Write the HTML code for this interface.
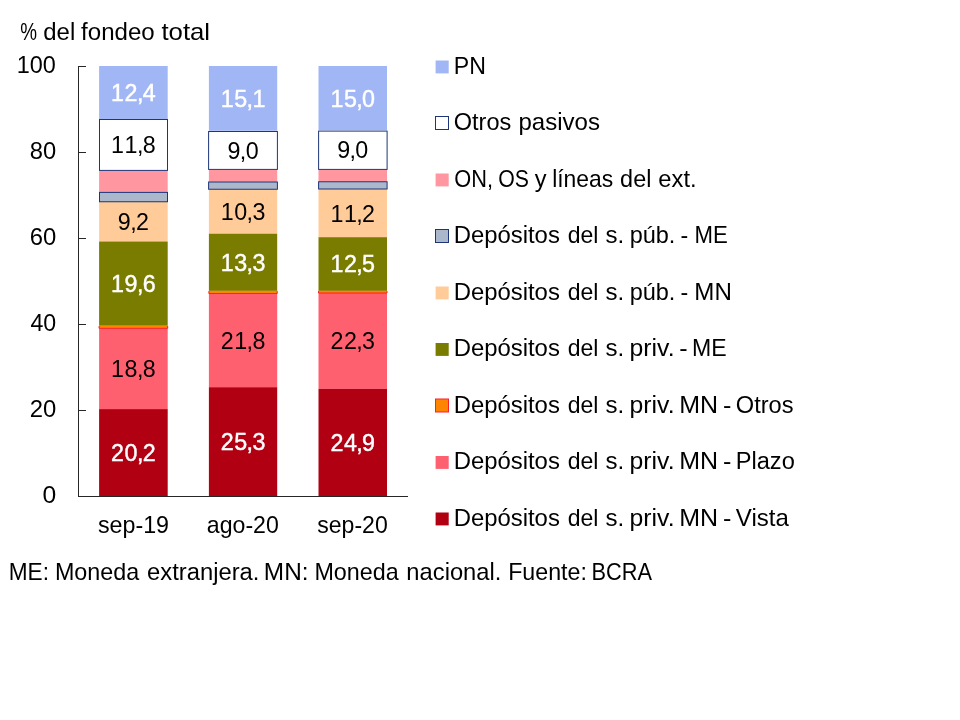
<!DOCTYPE html>
<html lang="es"><head><meta charset="utf-8"><title>Fondeo total</title>
<style>html,body{margin:0;padding:0;background:#fff}svg{display:block;will-change:transform}text{font-family:'Liberation Sans', sans-serif;font-size:24px}</style></head><body>
<svg width="960" height="720" viewBox="0 0 960 720">
<rect width="960" height="720" fill="#fff"/>
<rect x="99.10" y="66.00" width="68.60" height="53.30" fill="#A1B6F5"/>
<rect x="99.10" y="119.30" width="68.60" height="50.80" fill="#FFFFFF"/>
<rect x="99.10" y="170.10" width="68.60" height="21.90" fill="#FF96A0"/>
<rect x="99.10" y="192.00" width="68.60" height="10.00" fill="#ABB7CB"/>
<rect x="99.10" y="202.00" width="68.60" height="39.50" fill="#FFCC99"/>
<rect x="99.10" y="241.50" width="68.60" height="84.30" fill="#7A7C00"/>
<rect x="99.10" y="325.80" width="68.60" height="2.50" fill="#FF8500"/>
<rect x="99.10" y="328.30" width="68.60" height="80.80" fill="#FF6070"/>
<rect x="99.10" y="409.10" width="68.60" height="86.90" fill="#B00012"/>
<rect x="99.50" y="119.50" width="68.00" height="50.90" fill="#FFFFFF" stroke="#1F3579" stroke-width="1"/>
<rect x="99.50" y="192.40" width="68.00" height="9.35" fill="#ABB7CB" stroke="#1F3579" stroke-width="1"/>
<rect x="99.10" y="325.80" width="68.60" height="2.50" fill="#FF8500"/>
<path d="M99.10 326.10V328.30H167.70V326.10" fill="none" stroke="#F8202A" stroke-width="1"/>
<text transform="translate(110.83,101.05) scale(0.97,1)" x="0.27 14.17 26.88 32.91" fill="#fff" stroke="#fff" stroke-width=".45">12,4</text>
<text transform="translate(110.83,153.10) scale(0.97,1)" x="0.27 14.17 26.88 32.91" fill="#000">11,8</text>
<text transform="translate(117.57,230.15) scale(0.97,1)" x="0.27 12.98 19.02" fill="#000">9,2</text>
<text transform="translate(110.83,292.05) scale(0.97,1)" x="0.27 14.17 26.88 32.91" fill="#fff" stroke="#fff" stroke-width=".45">19,6</text>
<text transform="translate(110.83,377.10) scale(0.97,1)" x="0.27 14.17 26.88 32.91" fill="#000">18,8</text>
<text transform="translate(110.83,460.95) scale(0.97,1)" x="0.27 14.17 26.88 32.91" fill="#fff" stroke="#fff" stroke-width=".45">20,2</text>
<rect x="208.90" y="66.00" width="68.30" height="64.90" fill="#A1B6F5"/>
<rect x="208.90" y="130.90" width="68.30" height="38.70" fill="#FFFFFF"/>
<rect x="208.90" y="169.60" width="68.30" height="12.30" fill="#FF96A0"/>
<rect x="208.90" y="181.90" width="68.30" height="7.50" fill="#ABB7CB"/>
<rect x="208.90" y="189.40" width="68.30" height="44.30" fill="#FFCC99"/>
<rect x="208.90" y="233.70" width="68.30" height="57.20" fill="#7A7C00"/>
<rect x="208.90" y="290.90" width="68.30" height="2.60" fill="#FF8500"/>
<rect x="208.90" y="293.50" width="68.30" height="93.70" fill="#FF6070"/>
<rect x="208.90" y="387.20" width="68.30" height="108.80" fill="#B00012"/>
<rect x="208.60" y="131.50" width="68.80" height="37.90" fill="#FFFFFF" stroke="#1F3579" stroke-width="1"/>
<rect x="208.60" y="182.00" width="68.80" height="7.25" fill="#ABB7CB" stroke="#1F3579" stroke-width="1"/>
<rect x="208.90" y="290.90" width="68.30" height="2.60" fill="#FF8500"/>
<path d="M208.90 291.20V293.50H277.20V291.20" fill="none" stroke="#F8202A" stroke-width="1"/>
<text transform="translate(220.48,106.85) scale(0.97,1)" x="0.27 14.17 26.88 32.91" fill="#fff" stroke="#fff" stroke-width=".45">15,1</text>
<text transform="translate(227.22,158.65) scale(0.97,1)" x="0.27 12.98 19.02" fill="#000">9,0</text>
<text transform="translate(220.48,219.95) scale(0.97,1)" x="0.27 14.17 26.88 32.91" fill="#000">10,3</text>
<text transform="translate(220.48,270.70) scale(0.97,1)" x="0.27 14.17 26.88 32.91" fill="#fff" stroke="#fff" stroke-width=".45">13,3</text>
<text transform="translate(220.48,348.75) scale(0.97,1)" x="0.27 14.17 26.88 32.91" fill="#000">21,8</text>
<text transform="translate(220.48,450.00) scale(0.97,1)" x="0.27 14.17 26.88 32.91" fill="#fff" stroke="#fff" stroke-width=".45">25,3</text>
<rect x="318.50" y="66.00" width="68.50" height="64.50" fill="#A1B6F5"/>
<rect x="318.50" y="130.50" width="68.50" height="38.70" fill="#FFFFFF"/>
<rect x="318.50" y="169.20" width="68.50" height="12.20" fill="#FF96A0"/>
<rect x="318.50" y="181.40" width="68.50" height="7.60" fill="#ABB7CB"/>
<rect x="318.50" y="189.00" width="68.50" height="48.20" fill="#FFCC99"/>
<rect x="318.50" y="237.20" width="68.50" height="53.70" fill="#7A7C00"/>
<rect x="318.50" y="290.90" width="68.50" height="2.10" fill="#FF8500"/>
<rect x="318.50" y="293.00" width="68.50" height="95.90" fill="#FF6070"/>
<rect x="318.50" y="388.90" width="68.50" height="107.10" fill="#B00012"/>
<rect x="318.60" y="131.10" width="68.50" height="38.30" fill="#FFFFFF" stroke="#1F3579" stroke-width="1"/>
<rect x="318.60" y="181.75" width="68.50" height="7.25" fill="#ABB7CB" stroke="#1F3579" stroke-width="1"/>
<rect x="318.50" y="290.90" width="68.50" height="2.10" fill="#FF8500"/>
<path d="M318.50 291.20V293.00H387.00V291.20" fill="none" stroke="#F8202A" stroke-width="1"/>
<text transform="translate(330.18,106.65) scale(0.97,1)" x="0.27 14.17 26.88 32.91" fill="#fff" stroke="#fff" stroke-width=".45">15,0</text>
<text transform="translate(336.92,158.25) scale(0.97,1)" x="0.27 12.98 19.02" fill="#000">9,0</text>
<text transform="translate(330.18,221.50) scale(0.97,1)" x="0.27 14.17 26.88 32.91" fill="#000">11,2</text>
<text transform="translate(330.18,272.45) scale(0.97,1)" x="0.27 14.17 26.88 32.91" fill="#fff" stroke="#fff" stroke-width=".45">12,5</text>
<text transform="translate(330.18,349.35) scale(0.97,1)" x="0.27 14.17 26.88 32.91" fill="#000">22,3</text>
<text transform="translate(330.18,450.85) scale(0.97,1)" x="0.27 14.17 26.88 32.91" fill="#fff" stroke="#fff" stroke-width=".45">24,9</text>
<path d="M78.5 66V496.5M78 66.5H86M78 152.5H86M78 238.5H86M78 324.5H86M78 410.5H86M78 496.5H408" stroke="#262626" stroke-width="1" fill="none"/>
<g><text transform="translate(20.35,39.50) scale(0.7863,1)" fill="#000">%</text><text transform="translate(43.25,39.50) scale(0.9976,1)" fill="#000">del</text><text transform="translate(81.11,39.50) scale(1.0030,1)" fill="#000">fondeo</text><text transform="translate(161.46,39.50) scale(1.0721,1)" fill="#000">total</text></g>
<g><text transform="translate(97.93,533.00) scale(0.9689,1)" fill="#000">sep-19</text></g>
<g><text transform="translate(206.86,533.00) scale(0.9633,1)" fill="#000">ago-20</text></g>
<g><text transform="translate(317.28,533.00) scale(0.9605,1)" fill="#000">sep-20</text></g>
<g><text transform="translate(8.72,579.50) scale(0.9433,1)" fill="#000">ME:</text><text transform="translate(54.92,579.50) scale(0.9718,1)" fill="#000">Moneda</text><text transform="translate(147.10,579.50) scale(0.9916,1)" fill="#000">extranjera.</text><text transform="translate(263.84,579.50) scale(1.0151,1)" fill="#000">MN:</text><text transform="translate(314.42,579.50) scale(0.9718,1)" fill="#000">Moneda</text><text transform="translate(406.37,579.50) scale(0.9891,1)" fill="#000">nacional.</text><text transform="translate(508.18,579.50) scale(0.9684,1)" fill="#000">Fuente:</text><text transform="translate(591.54,579.50) scale(0.9077,1)" fill="#000">BCRA</text></g>
<g><text transform="translate(453.79,73.50) scale(0.9639,1)" fill="#000">PN</text></g>
<g><text transform="translate(453.79,130.00) scale(0.9804,1)" fill="#000">Otros</text><text transform="translate(518.39,130.00) scale(1.0024,1)" fill="#000">pasivos</text></g>
<g><text transform="translate(454.37,186.50) scale(0.9081,1)" fill="#000">ON,</text><text transform="translate(498.15,186.50) scale(0.8858,1)" fill="#000">OS</text><text transform="translate(534.69,186.50) scale(0.9811,1)" fill="#000">y</text><text transform="translate(552.17,186.50) scale(0.9539,1)" fill="#000">líneas</text><text transform="translate(620.12,186.50) scale(0.9772,1)" fill="#000">del</text><text transform="translate(658.36,186.50) scale(0.9882,1)" fill="#000">ext.</text></g>
<g><text transform="translate(453.63,243.00) scale(0.9955,1)" fill="#000">Depósitos</text><text transform="translate(567.64,243.00) scale(0.9602,1)" fill="#000">del</text><text transform="translate(605.40,243.00) scale(1.0016,1)" fill="#000">s.</text><text transform="translate(629.68,243.00) scale(0.9775,1)" fill="#000">púb.</text><text transform="translate(680.61,243.00) scale(0.9653,1)" fill="#000">-</text><text transform="translate(694.51,243.00) scale(0.9241,1)" fill="#000">ME</text></g>
<g><text transform="translate(453.63,299.50) scale(0.9955,1)" fill="#000">Depósitos</text><text transform="translate(567.64,299.50) scale(0.9602,1)" fill="#000">del</text><text transform="translate(605.40,299.50) scale(1.0016,1)" fill="#000">s.</text><text transform="translate(629.68,299.50) scale(0.9775,1)" fill="#000">púb.</text><text transform="translate(680.61,299.50) scale(0.9653,1)" fill="#000">-</text><text transform="translate(694.36,299.50) scale(1.0054,1)" fill="#000">MN</text></g>
<g><text transform="translate(453.63,356.00) scale(0.9955,1)" fill="#000">Depósitos</text><text transform="translate(567.64,356.00) scale(0.9602,1)" fill="#000">del</text><text transform="translate(605.40,356.00) scale(1.0016,1)" fill="#000">s.</text><text transform="translate(629.59,356.00) scale(1.0321,1)" fill="#000">priv.</text><text transform="translate(679.26,356.00) scale(1.0492,1)" fill="#000">-</text><text transform="translate(691.94,356.00) scale(0.9617,1)" fill="#000">ME</text></g>
<g><text transform="translate(453.63,412.50) scale(0.9955,1)" fill="#000">Depósitos</text><text transform="translate(567.64,412.50) scale(0.9602,1)" fill="#000">del</text><text transform="translate(605.40,412.50) scale(1.0016,1)" fill="#000">s.</text><text transform="translate(629.59,412.50) scale(1.0321,1)" fill="#000">priv.</text><text transform="translate(679.29,412.50) scale(1.0426,1)" fill="#000">MN</text><text transform="translate(723.01,412.50) scale(1.0492,1)" fill="#000">-</text><text transform="translate(735.78,412.50) scale(0.9848,1)" fill="#000">Otros</text></g>
<g><text transform="translate(453.63,469.00) scale(0.9955,1)" fill="#000">Depósitos</text><text transform="translate(567.64,469.00) scale(0.9602,1)" fill="#000">del</text><text transform="translate(605.40,469.00) scale(1.0016,1)" fill="#000">s.</text><text transform="translate(629.59,469.00) scale(1.0321,1)" fill="#000">priv.</text><text transform="translate(679.29,469.00) scale(1.0426,1)" fill="#000">MN</text><text transform="translate(723.01,469.00) scale(1.0492,1)" fill="#000">-</text><text transform="translate(735.65,469.00) scale(0.9855,1)" fill="#000">Plazo</text></g>
<g><text transform="translate(453.63,525.50) scale(0.9955,1)" fill="#000">Depósitos</text><text transform="translate(567.64,525.50) scale(0.9602,1)" fill="#000">del</text><text transform="translate(605.40,525.50) scale(1.0016,1)" fill="#000">s.</text><text transform="translate(629.59,525.50) scale(1.0321,1)" fill="#000">priv.</text><text transform="translate(679.29,525.50) scale(1.0426,1)" fill="#000">MN</text><text transform="translate(723.01,525.50) scale(1.0492,1)" fill="#000">-</text><text transform="translate(735.87,525.50) scale(1.0020,1)" fill="#000">Vista</text></g>
<text transform="translate(16.75,72.70) scale(0.9765,1)" fill="#000">100</text>
<text transform="translate(29.83,158.70) scale(0.9892,1)" fill="#000">80</text>
<text transform="translate(29.71,244.70) scale(0.9939,1)" fill="#000">60</text>
<text transform="translate(30.44,330.70) scale(0.9653,1)" fill="#000">40</text>
<text transform="translate(29.72,416.70) scale(0.9934,1)" fill="#000">20</text>
<text transform="translate(42.42,502.70) scale(1.0277,1)" fill="#000">0</text>
<rect x="435.6" y="60.50" width="13.1" height="12.9" fill="#A1B6F5"/>
<rect x="435.5" y="116.50" width="13" height="13" fill="#FFFFFF" stroke="#1F3579" stroke-width="1"/>
<rect x="435.6" y="173.50" width="13.1" height="12.9" fill="#FF96A0"/>
<rect x="435.5" y="229.50" width="13" height="13" fill="#ABB7CB" stroke="#1F3579" stroke-width="1"/>
<rect x="435.6" y="286.50" width="13.1" height="12.9" fill="#FFCC99"/>
<rect x="435.6" y="343.00" width="13.1" height="12.9" fill="#7A7C00"/>
<rect x="435.5" y="399.00" width="13" height="13" fill="#FF8500" stroke="#F8202A" stroke-width="1"/>
<rect x="435.6" y="456.00" width="13.1" height="12.9" fill="#FF6070"/>
<rect x="435.6" y="512.50" width="13.1" height="12.9" fill="#B00012"/>
</svg></body></html>
